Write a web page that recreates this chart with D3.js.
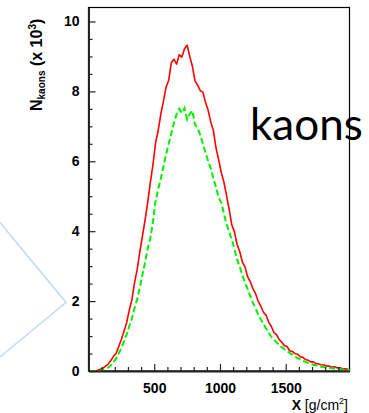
<!DOCTYPE html>
<html>
<head>
<meta charset="utf-8">
<script src="https://cdn.jsdelivr.net/npm/d3@7"></script>
<style>
  body { margin: 0; background: #fff; }
  svg { display: block; }
</style>
</head>
<body>
<svg id="chart" width="369" height="413"></svg>
<script>
// depth bins (g/cm2), step 20
const depth = [
  0, 20, 40, 60, 80, 100, 120, 140, 160, 180, 200, 220, 240, 260, 280, 300, 320, 340, 360, 380,
  400, 420, 440, 460, 480, 500, 520, 540, 560, 580, 600, 620, 640, 660, 680, 700, 720, 740, 760, 780,
  800, 820, 840, 860, 880, 900, 920, 940, 960, 980, 1000, 1020, 1040, 1060, 1080, 1100, 1120, 1140, 1160, 1180,
  1200, 1220, 1240, 1260, 1280, 1300, 1320, 1340, 1360, 1380, 1400, 1420, 1440, 1460, 1480, 1500, 1520, 1540, 1560, 1580,
  1600, 1620, 1640, 1660, 1680, 1700, 1720, 1740, 1760, 1780, 1800, 1820, 1840, 1860, 1880, 1900, 1920, 1940, 1960, 1980
];

// red solid histogram (x 10^3)
const kaonsAll = [
  0, 0, 0, 0.02, 0.05, 0.08, 0.14, 0.2, 0.3, 0.42, 0.5, 0.7, 0.9, 1.14, 1.38, 1.74, 2.04, 2.52, 2.9, 3.4,
  3.85, 4.32, 4.82, 5.38, 5.9, 6.52, 6.88, 7.35, 7.72, 8.12, 8.32, 8.82, 8.92, 8.78, 9.05, 8.98, 9.22, 9.32, 9.0, 8.72,
  8.3, 8.18, 8.02, 7.98, 7.68, 7.46, 7.12, 6.88, 6.38, 6.04, 5.68, 5.4, 5.02, 4.62, 4.18, 3.98, 3.62, 3.42, 3.12, 2.98,
  2.7, 2.56, 2.36, 2.22, 2.0, 1.86, 1.68, 1.6, 1.4, 1.28, 1.1, 1.04, 0.9, 0.82, 0.72, 0.7, 0.58, 0.56, 0.5, 0.48,
  0.41, 0.39, 0.33, 0.31, 0.26, 0.26, 0.21, 0.2, 0.18, 0.17, 0.14, 0.14, 0.11, 0.12, 0.09, 0.09, 0.07, 0.06, 0.05, 0.04
];

// green dashed histogram (x 10^3)
const kaonsSel = [
  0, 0, 0, 0, 0, 0.03, 0.06, 0.1, 0.16, 0.26, 0.36, 0.5, 0.66, 0.85, 1.05, 1.28, 1.5, 1.8, 2.05, 2.38,
  2.75, 3.1, 3.5, 3.8, 4.25, 4.85, 5.2, 5.5, 5.85, 6.2, 6.5, 6.8, 7.1, 7.35, 7.5, 7.38, 7.52, 7.2, 7.35, 7.45,
  7.05, 6.95, 6.75, 6.5, 6.25, 6.0, 5.8, 5.5, 5.25, 4.95, 4.82, 4.5, 4.2, 3.98, 3.75, 3.5, 3.2, 2.98, 2.75, 2.52,
  2.35, 2.15, 1.95, 1.8, 1.62, 1.48, 1.35, 1.22, 1.1, 0.98, 0.9, 0.82, 0.74, 0.68, 0.62, 0.56, 0.52, 0.47, 0.42, 0.37,
  0.33, 0.29, 0.26, 0.23, 0.2, 0.18, 0.16, 0.14, 0.12, 0.11, 0.1, 0.09, 0.08, 0.07, 0.06, 0.05, 0.04, 0.03, 0.03, 0.02
];

const xMajor = [500, 1000, 1500];
const xMinor = d3.range(100, 2000, 100).filter((v) => v % 500 !== 0);
const yMajor = [0, 2, 4, 6, 8, 10];
const yMinor = d3.range(0.5, 10.4, 0.5).filter((v) => v % 2 !== 0);

const svg = d3.select("#chart");

const plotLeft = 88.5, plotRight = 349.5, plotTop = 7.5, plotBottom = 371;
const x = d3.scaleLinear().domain([0, 1985]).range([plotLeft, plotRight]);
const y = d3.scaleLinear().domain([0, 10.4]).range([plotBottom, plotTop]);

const font = "'Liberation Sans', Arial, Helvetica, sans-serif";

// light blue callout edge on the left
svg.append("polyline")
  .attr("points", "0,222.5 66,302.5 0,357")
  .attr("fill", "none")
  .attr("stroke", "#c6d9f1")
  .attr("stroke-width", 1.6);

// frame
svg.append("rect")
  .attr("x", plotLeft)
  .attr("y", plotTop)
  .attr("width", plotRight - plotLeft)
  .attr("height", plotBottom - plotTop)
  .attr("fill", "none")
  .attr("stroke", "#000")
  .attr("stroke-width", 1.2);

// histograms
const series = depth.map((d, i) => ({ d: d, all: kaonsAll[i], sel: kaonsSel[i] }));

const lineAll = d3.line()
  .x((p) => x(p.d + 10))
  .y((p) => y(p.all));

const lineSel = d3.line()
  .x((p) => x(p.d + 10))
  .y((p) => y(p.sel));

svg.append("path")
  .datum(series)
  .attr("fill", "none")
  .attr("stroke", "#ff0000")
  .attr("stroke-width", 1.6)
  .attr("stroke-linejoin", "round")
  .attr("d", lineAll);

svg.append("path")
  .datum(series)
  .attr("fill", "none")
  .attr("stroke", "#00ee00")
  .attr("stroke-width", 2)
  .attr("stroke-dasharray", "6,3")
  .attr("d", lineSel);

// y axis
svg.append("g")
  .attr("class", "y-axis")
  .attr("transform", `translate(${plotLeft},0)`)
  .call(d3.axisLeft(y).tickValues(yMajor).tickSize(-7).tickSizeOuter(0).tickPadding(9));

svg.append("g")
  .attr("class", "y-axis-minor")
  .attr("transform", `translate(${plotLeft},0)`)
  .call(d3.axisLeft(y).tickValues(yMinor).tickSize(-4).tickSizeOuter(0).tickFormat(() => ""));

// x axis
svg.append("g")
  .attr("class", "x-axis")
  .attr("transform", `translate(0,${plotBottom})`)
  .call(d3.axisBottom(x).tickValues(xMajor).tickSize(-7).tickSizeOuter(0).tickPadding(12).tickFormat(d3.format("d")));

svg.append("g")
  .attr("class", "x-axis-minor")
  .attr("transform", `translate(0,${plotBottom})`)
  .call(d3.axisBottom(x).tickValues(xMinor).tickSize(-4).tickSizeOuter(0).tickFormat(() => ""));

svg.selectAll(".y-axis .domain, .x-axis .domain")
  .attr("stroke", "#222")
  .attr("stroke-width", 2);
svg.selectAll(".y-axis-minor .domain, .x-axis-minor .domain").remove();
svg.selectAll(".tick line").attr("stroke", "#222").attr("stroke-width", 1.2);

svg.selectAll(".y-axis text, .x-axis text")
  .attr("font-family", font)
  .attr("font-weight", 700)
  .attr("font-size", 14)
  .attr("fill", "#000");

// y axis title
const yTitle = svg.append("text")
  .attr("transform", "translate(42,111) rotate(-90)")
  .attr("font-family", font)
  .attr("font-weight", 700)
  .attr("font-size", 16)
  .attr("fill", "#000");
yTitle.append("tspan").text("N");
yTitle.append("tspan").attr("font-size", 10).attr("dy", 3).text("kaons");
yTitle.append("tspan").attr("dy", -3).text(" (x 10");
yTitle.append("tspan").attr("font-size", 10).attr("dy", -6).text("3");
yTitle.append("tspan").attr("dy", 6).text(")");

// x axis title
const xTitle = svg.append("text")
  .attr("x", 348)
  .attr("y", 410)
  .attr("text-anchor", "end")
  .attr("font-family", font)
  .attr("font-size", 14)
  .attr("fill", "#000");
xTitle.append("tspan").attr("font-weight", 700).text("X ");
xTitle.append("tspan").text("[g/cm");
xTitle.append("tspan").attr("font-size", 9).attr("dy", -6).text("2");
xTitle.append("tspan").attr("dy", 6).text("]");

// annotation
svg.append("text")
  .attr("x", 250)
  .attr("y", 140)
  .attr("font-family", "Lato, 'Open Sans', sans-serif")
  .attr("font-size", 44)
  .attr("fill", "#000")
  .text("kaons");
</script>
</body>
</html>
